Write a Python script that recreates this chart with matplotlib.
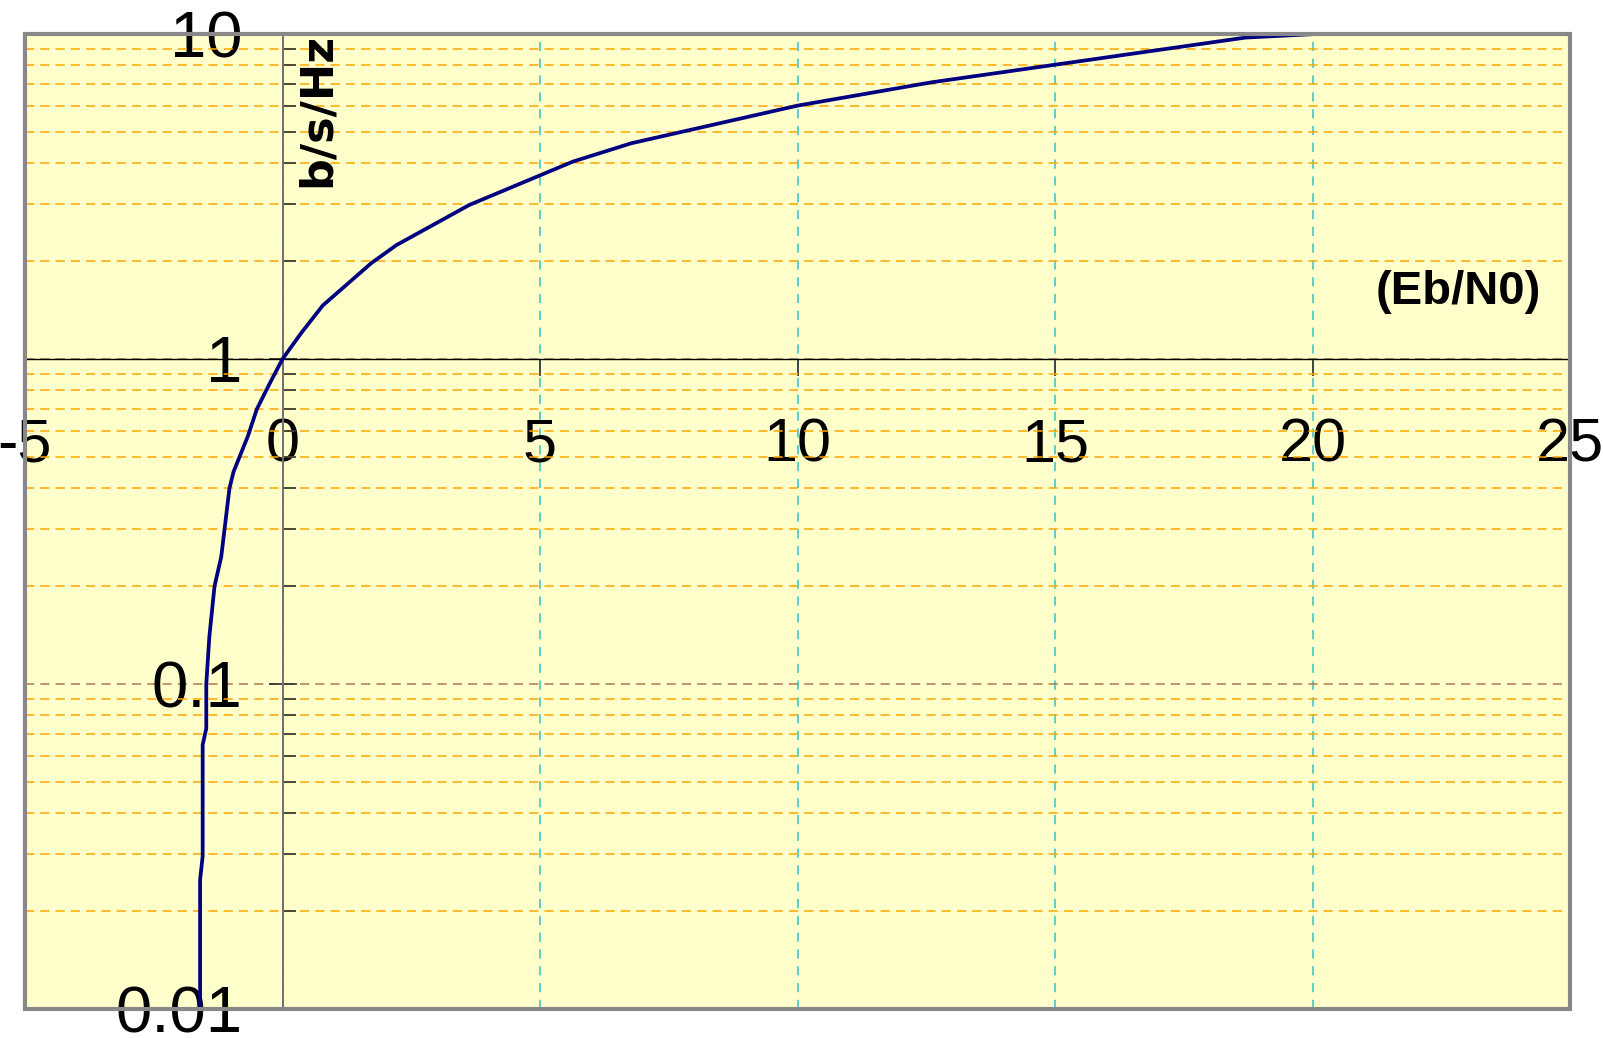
import matplotlib.pyplot as plt
from matplotlib.ticker import LogLocator, FixedLocator, FixedFormatter, NullFormatter
from matplotlib.patches import Rectangle

# SHANNON LIMIT CURVE
ebn0_db = [-1.60, -1.60, -1.55, -1.55, -1.48, -1.48, -1.42, -1.32, -1.19, -1.03,
           -0.95, -0.67, -0.50, -0.25, 0.0, 0.36, 0.78, 1.72, 2.21, 3.63,
           5.64, 6.77, 10.0, 12.6, 18.7, 20.07]
efficiency = [0.01, 0.025, 0.0295, 0.065, 0.073, 0.10, 0.14, 0.20, 0.246, 0.40,
              0.45, 0.58, 0.70, 0.84, 1.0, 1.20, 1.46, 1.97, 2.24, 2.98,
              4.05, 4.61, 6.02, 7.1, 9.75, 10.0]

x_ticks = [-5, 0, 5, 10, 15, 20, 25]
x_labels = ['-5', '0', '5', '10', '15', '20', '25']
y_ticks = [0.01, 0.1, 1, 10]
y_labels = ['0.01', '0.1', '1', '10']

plt.rcParams['font.family'] = ['Liberation Sans Narrow', 'Liberation Sans', 'DejaVu Sans']

fig = plt.figure(figsize=(16.03, 10.38), dpi=100)
ax = fig.add_axes([25 / 1603, 29 / 1038, 1545 / 1603, 975 / 1038])
ax.set_facecolor('#FFFFCC')

ax.plot(ebn0_db, efficiency, color='#000080', lw=2.7, zorder=5, clip_on=False)

ax.set_yscale('log')
ax.set_xlim(-5, 25)
ax.set_ylim(0.01, 10)

# AXES CROSS AT (0, 1)
ax.spines['left'].set_position(('data', 0))
ax.spines['bottom'].set_position(('data', 1))
ax.spines['left'].set_color('#707070')
ax.spines['left'].set_linewidth(1.4)
ax.spines['bottom'].set_color('black')
ax.spines['bottom'].set_linewidth(1.0)
ax.spines['top'].set_visible(False)
ax.spines['right'].set_visible(False)
ax.add_patch(Rectangle((0, 0), 1, 1, transform=ax.transAxes, fill=False,
                       ec='#888888', lw=3, zorder=6, clip_on=False))

# TICKS
ax.xaxis.set_major_locator(FixedLocator(x_ticks))
ax.xaxis.set_major_formatter(FixedFormatter(x_labels))
ax.yaxis.set_major_locator(FixedLocator(y_ticks))
ax.yaxis.set_major_formatter(FixedFormatter(y_labels))
ax.yaxis.set_minor_locator(LogLocator(base=10, subs=range(2, 10)))
ax.yaxis.set_minor_formatter(NullFormatter())

ax.tick_params(axis='y', which='major', direction='inout', length=20, width=1.2,
               color='#303030', pad=19, labelsize=47)
ax.tick_params(axis='y', which='minor', direction='in', length=9.5, width=1.2,
               color='#303030')
ax.tick_params(axis='x', which='major', direction='out', length=12, width=1.2,
               color='#303030', pad=30, labelsize=44)

# GRID
ax.grid(which='minor', axis='y', color='#FFA500', ls=(0, (6, 4)), lw=1.1)
ax.grid(which='major', axis='y', color='#B07850', ls=(0, (6, 4)), lw=1.1)
ax.grid(which='major', axis='x', color='#30C4C8', ls=(0, (6, 5)), lw=1.1)

# LABELS
ax.set_ylabel('b/s/Hz', family='DejaVu Sans', fontweight='bold', fontsize=32,
              rotation=90, va='center', ha='center')
ax.yaxis.set_label_coords(0.189, 0.922)
ax.set_xlabel('(Eb/N0)', fontweight='bold', fontsize=34, va='center', ha='center')
ax.xaxis.set_label_coords(0.9275, 0.7354)

fig.savefig('out.png', dpi=100)
